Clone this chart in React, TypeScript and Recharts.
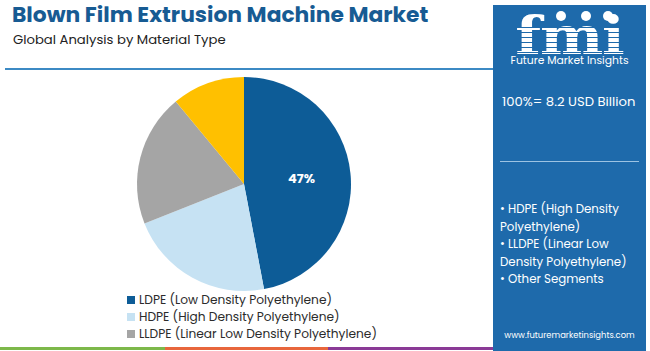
import { Cell, Pie, PieChart } from "recharts";

const segments = ["LDPE (Low Density Polyethylene)", "HDPE (High Density Polyethylene)", "LLDPE (Linear Low Density Polyethylene)", "Other Segments"];
const shares = [47, 22, 20, 11];
const colors = ["#0D5C97", "#C6E2F3", "#A5A5A5", "#FFC000"];
const legendItems = segments.slice(0, 3);
const panelBullets = ["• HDPE (High Density", "Polyethylene)", "• LLDPE (Linear Low", "Density Polyethylene)", "• Other Segments"];

const data = segments.map((name, i) => ({ name, value: shares[i] }));

const font = "Poppins, 'Noto Sans', sans-serif";
const panelBlue = "#1E6AAB";
const RAD = Math.PI / 180;

const renderLabel = ({ cx, cy, midAngle, outerRadius, index, value }: any) => {
	if (index !== 0) return null;
	const r = outerRadius * 0.54;
	const x = cx + r * Math.cos(-midAngle * RAD);
	const y = cy + r * Math.sin(-midAngle * RAD);
	return (
		<text x={x} y={y} fill="#fff" fontSize={13} fontWeight={700} fontFamily={font} textAnchor="middle" dominantBaseline="central">
			{value}%
		</text>
	);
};

export default function App() {
	return (
		<div style={{ position: "absolute", left: 0, top: 0, width: 650, height: 351, background: "#fff", overflow: "hidden", fontFamily: font }}>
			<div style={{ position: "absolute", left: 12, top: 2, fontSize: 21.8, lineHeight: "26px", fontWeight: 700, color: "#175B93", whiteSpace: "nowrap" }}>
				Blown Film Extrusion Machine Market
			</div>
			<div style={{ position: "absolute", left: 13, top: 32, fontSize: 13.2, lineHeight: "16px", color: "#222", whiteSpace: "nowrap" }}>
				Global Analysis by Material Type
			</div>
			<div style={{ position: "absolute", left: 5, top: 68, width: 490, height: 2, background: "#3C8AC4" }} />

			<PieChart width={650} height={351} style={{ position: "absolute", left: 0, top: 0 }}>
				<Pie
					data={data}
					dataKey="value"
					nameKey="name"
					cx={239}
					cy={179}
					outerRadius={107}
					startAngle={90}
					endAngle={-270}
					stroke="none"
					label={renderLabel}
					labelLine={false}
					isAnimationActive={false}
				>
					{data.map((d, i) => (
						<Cell key={d.name} fill={colors[i]} />
					))}
				</Pie>
			</PieChart>

			<div style={{ position: "absolute", left: 127, top: 292 }}>
				{legendItems.map((name, i) => (
					<div key={name} style={{ display: "flex", alignItems: "center", height: 16.7, fontSize: 12.2, color: "#2b2b2b", whiteSpace: "nowrap" }}>
						<span style={{ width: 8, height: 8, background: colors[i], marginRight: 4, display: "inline-block" }} />
						{name}
					</div>
				))}
			</div>

			<div style={{ position: "absolute", left: 0, top: 347, width: 165, height: 3, background: "#7DB84A" }} />
			<div style={{ position: "absolute", left: 165, top: 347, width: 163, height: 3, background: "#E8663C" }} />
			<div style={{ position: "absolute", left: 328, top: 347, width: 165, height: 3, background: "#8A3A96" }} />

			<div style={{ position: "absolute", left: 493, top: 5, width: 153, height: 346, background: panelBlue, color: "#fff" }}>
				{/* logo */}
				<div style={{ position: "absolute", left: 0, top: 12, width: 153, height: 38, textAlign: "center", fontSize: 52, fontWeight: 700, fontFamily: "'DejaVu Serif', serif", lineHeight: "38px", letterSpacing: -1, transform: "scaleX(1.15)" }}>
					fmi
				</div>
				{[22, 27, 32, 37, 42, 47].map((y) => (
					<div key={y} style={{ position: "absolute", left: 20, top: y, width: 113, height: 1, background: panelBlue }} />
				))}
				{[68, 93, 115].map((x) => (
					<div key={x} style={{ position: "absolute", left: x - 5, top: 6, width: 10, height: 10, borderRadius: 5, background: "#fff" }} />
				))}
				<div style={{ position: "absolute", left: 0, top: 50, width: 153, textAlign: "center", fontSize: 10.8, lineHeight: "12px" }}>Future Market Insights</div>
				<div style={{ position: "absolute", left: 9, top: 87, fontSize: 13.2, whiteSpace: "nowrap" }}>100%= 8.2 USD Billion</div>
				<div style={{ position: "absolute", left: 7, top: 156, width: 139, height: 1, background: "#9CC3E3" }} />
				<div style={{ position: "absolute", left: 7, top: 196, fontSize: 11.8, lineHeight: "17.5px", whiteSpace: "nowrap" }}>
					{panelBullets.map((t) => (
						<div key={t}>{t}</div>
					))}
				</div>
				<div style={{ position: "absolute", left: 0, top: 324, width: 153, textAlign: "center", fontSize: 8.4 }}>www.futuremarketinsights.com</div>
			</div>
		</div>
	);
}
